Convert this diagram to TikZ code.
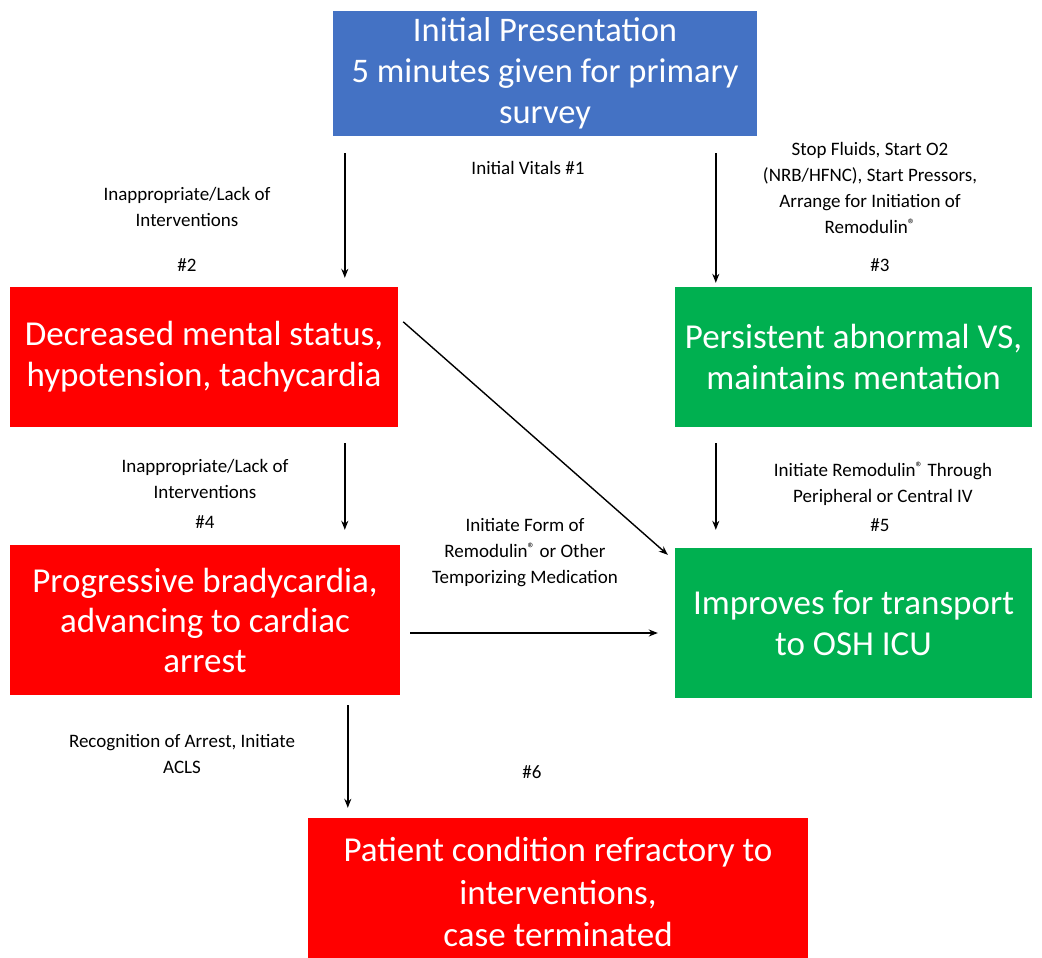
\documentclass[tikz,border=0pt]{standalone}
\usepackage{fontspec}
\setmainfont{Carlito}
\usetikzlibrary{calc,arrows.meta}
\definecolor{bblue}{HTML}{4472C4}
\definecolor{bred}{HTML}{FF0000}
\definecolor{bgreen}{HTML}{00B050}
\newcommand\regmark{\raisebox{0.45ex}{\fontsize{15}{15}\selectfont ®}}
\tikzset{
  box/.style={rectangle, draw=none, text=white, align=center, inner sep=2pt, font=\fontsize{34.5}{41}\selectfont},
  lbl/.style={align=center, inner sep=0pt, font=\fontsize{19}{26}\selectfont},
  arr/.style={draw=black, line width=1.4pt, -{Stealth[length=9pt,width=7pt]}}
}
\begin{document}
\begin{tikzpicture}[x=1pt,y=-1pt]
\useasboundingbox (0,0) rectangle (1042,958);
\fill[white] (0,0) rectangle (1042,958);
\begin{scope}
\clip (0,0) rectangle (1042,958);
\node[box, fill=bblue, minimum width=424pt, minimum height=125pt] (blue) at (545,73.5) {Initial Presentation\\5 minutes given for primary\\survey};
\node[box, fill=bred, minimum width=388pt, minimum height=140pt, font=\fontsize{35}{41}\selectfont] (red1) at (204,357) {Decreased mental status,\\hypotension, tachycardia};
\node[box, fill=bgreen, minimum width=357pt, minimum height=140pt, font=\fontsize{35}{41}\selectfont] (green1) at (853.5,357) {Persistent abnormal VS,\\maintains mentation};
\node[box, fill=bred, minimum width=390pt, minimum height=150pt, font=\fontsize{35}{40}\selectfont] (red2) at (205,620) {Progressive bradycardia,\\advancing to cardiac\\arrest};
\node[box, fill=bgreen, minimum width=357pt, minimum height=150pt, font=\fontsize{35}{41}\selectfont] (green2) at (853.5,623) {Improves for transport\\to OSH ICU};
\node[box, fill=bred, minimum width=500pt, minimum height=148pt, font=\fontsize{35}{42.5}\selectfont] (red3) at (558,892) {Patient condition refractory to\\interventions,\\case terminated};
\end{scope}

\draw[arr] ($(blue.south west)+(12,17)$) -- ($(red1.north west)+(335,-9)$);
\draw[arr] ($(blue.south west)+(383,17)$) -- ($(green1.north west)+(41,-4)$);
\draw[arr] ($(red1.north east)+(5,35)$) -- ($(green2.north west)+(-7,7)$);
\draw[arr] ($(red1.south west)+(335,16)$) -- ($(red2.north west)+(335,-15)$);
\draw[arr] ($(green1.south west)+(41,16)$) -- ($(green2.north west)+(41,-18)$);
\draw[arr] ($(red2.east)+(10,13)$) -- ($(green2.west)+(-17,10)$);
\draw[arr] ($(red2.south west)+(338,10)$) -- ($(red3.north west)+(40,-10)$);

\node[lbl] (l1) at (528,168) {Initial Vitals \#1};
\node[lbl] (l2) at (187,207) {Inappropriate/Lack of\\Interventions};
\node[lbl] (n2) at (187,265) {\#2};
\node[lbl] (l3) at (870,188) {Stop Fluids, Start O2\\(NRB/HFNC), Start Pressors,\\Arrange for Initiation of\\Remodulin\regmark};
\node[lbl] (n3) at (880,265) {\#3};
\node[lbl] (l4) at (205,479) {Inappropriate/Lack of\\Interventions};
\node[lbl] (n4) at (205,522) {\#4};
\node[lbl] (l5) at (883,484) {Initiate Remodulin\regmark{} Through\\Peripheral or Central IV};
\node[lbl] (n5) at (880,525) {\#5};
\node[lbl] (l6) at (525,553) {Initiate Form of\\Remodulin\regmark{} or Other\\Temporizing Medication};
\node[lbl] (l7) at (182,754) {Recognition of Arrest, Initiate\\ACLS};
\node[lbl] (n6) at (532,772) {\#6};
\end{tikzpicture}
\end{document}
